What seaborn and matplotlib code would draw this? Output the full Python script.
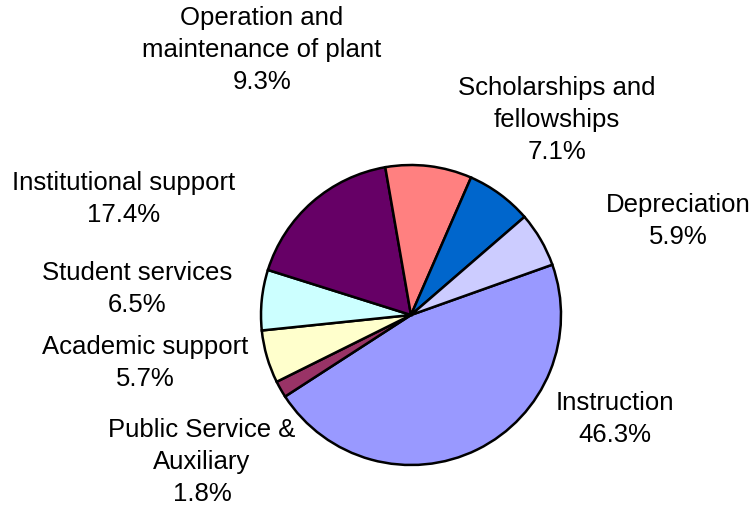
import matplotlib
matplotlib.use("Agg")
import matplotlib.pyplot as plt
import seaborn as sns

categories = ["Instruction", "Public Service &\nAuxiliary", "Academic support",
              "Student services", "Institutional support",
              "Operation and\nmaintenance of plant", "Scholarships and\nfellowships",
              "Depreciation"]
values = [46.3, 1.8, 5.7, 6.5, 17.4, 9.3, 7.1, 5.9]
colors = ["#9999FF", "#993366", "#FFFFCC", "#CCFFFF", "#660066",
          "#FF8080", "#0066CC", "#CCCCFF"]

# label centers in figure pixels (layout)
label_pos = [(615, 419), (202, 462), (145, 363), (137, 289), (124, 199),
             (262, 50), (557, 120), (678, 221)]

sns.set_style("white")
plt.rcParams["font.family"] = ["Liberation Sans", "DejaVu Sans"]

W, H = 754, 507
fig = plt.figure(figsize=(W / 100, H / 100), dpi=100)
cx, cy, r = 411, 315, 150
ax = fig.add_axes([(cx - r) / W, (H - cy - r) / H, 2 * r / W, 2 * r / H])
pal = sns.color_palette(colors)
ax.pie(values, colors=pal, startangle=19.6, counterclock=False,
       wedgeprops=dict(edgecolor="black", linewidth=1.8))
ax.set_xlim(-1.0, 1.0)
ax.set_ylim(-1.0, 1.0)
ax.set_aspect("equal")
ax.axis("off")

for cat, v, (px, py) in zip(categories, values, label_pos):
    fig.text(px / W, 1 - py / H, f"{cat}\n{v:.1f}%", ha="center", va="center",
             fontsize=18.5, linespacing=1.42, color="black")

fig.savefig("out.png", dpi=100)
